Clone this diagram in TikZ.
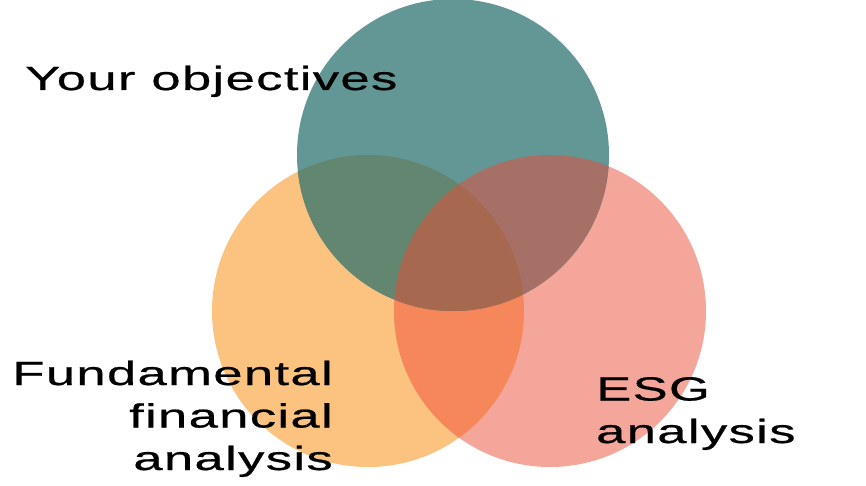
\documentclass[tikz,border=0pt]{standalone}
\usepackage{fontspec}
\setmainfont{Liberation Sans}[FakeStretch=1.57,LetterSpace=4,FakeBold=0.6]
\definecolor{tealC}{RGB}{98,151,150}
\definecolor{orangeC}{RGB}{252,195,128}
\definecolor{pinkC}{RGB}{245,166,154}
\definecolor{toC}{RGB}{98,134,112}
\definecolor{tpC}{RGB}{167,112,102}
\definecolor{opC}{RGB}{245,135,90}
\definecolor{allC}{RGB}{167,104,80}
\begin{document}
\begin{tikzpicture}[x=1pt,y=-1pt,
  lbl/.style={inner sep=0pt,font=\fontsize{33.5}{42.5}\selectfont,text=black}]
\useasboundingbox (0,0) rectangle (866,486);
\fill[white] (0,0) rectangle (866,486);
\coordinate (cT) at (453,155);
\coordinate (cO) at (368,311);
\coordinate (cP) at (550,311);
\def\R{156pt}
\fill[orangeC] (cO) circle[radius=\R];
\fill[pinkC] (cP) circle[radius=\R];
\fill[tealC] (cT) circle[radius=\R];
\begin{scope}
  \clip (cO) circle[radius=\R];
  \fill[opC] (cP) circle[radius=\R];
\end{scope}
\begin{scope}
  \clip (cT) circle[radius=\R];
  \fill[toC] (cO) circle[radius=\R];
  \fill[tpC] (cP) circle[radius=\R];
  \clip (cO) circle[radius=\R];
  \fill[allC] (cP) circle[radius=\R];
\end{scope}
\node[lbl,anchor=base west] (obj) at (25,90) {Your objectives};
\node[lbl,anchor=base east,align=right] (fund) at (333,470) {Fundamental\\financial\\analysis};
\node[lbl,anchor=base west,align=left] (esg) at (596,443) {ESG\\analysis};
\end{tikzpicture}
\end{document}
